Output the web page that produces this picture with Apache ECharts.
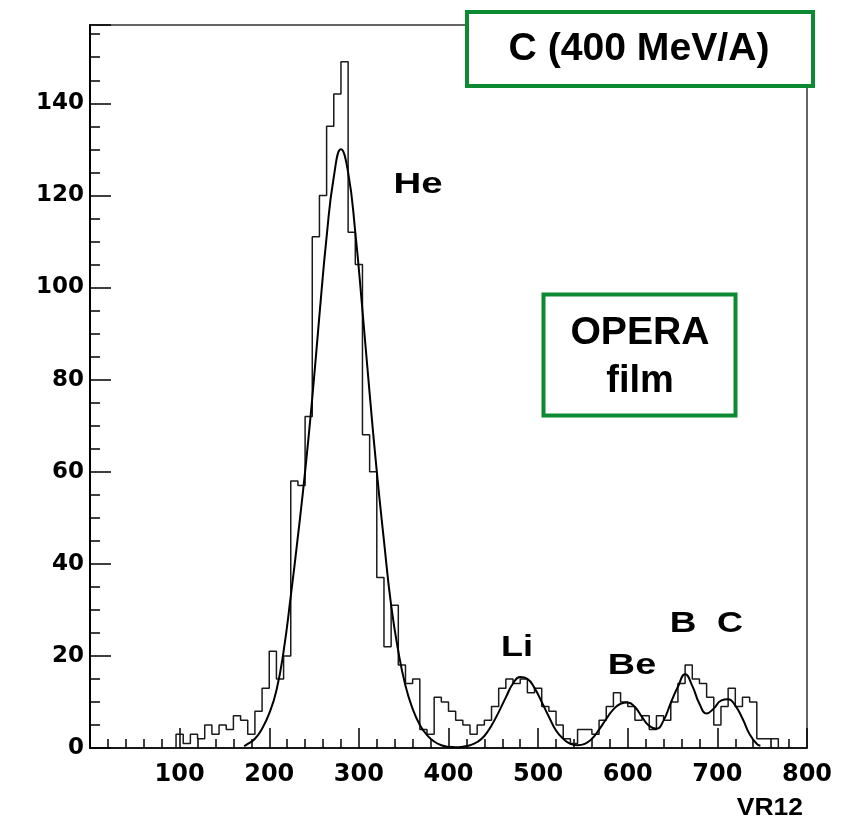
<!DOCTYPE html>
<html>
<head>
<meta charset="utf-8">
<title>VR12 - C (400 MeV/A)</title>
<script src="https://cdn.jsdelivr.net/npm/echarts@6/dist/echarts.min.js"></script>
<style>
	html, body { margin: 0; padding: 0; background: #fff; }
	#chart { width: 853px; height: 820px; }
</style>
</head>
<body>
<div id="chart"></div>
<script>
// histogram, bins of 8 starting at 96
var binStart = 96;
var binWidth = 8;
var counts = [3, 1, 3, 2, 5, 3, 5, 4, 7, 6, 3, 8, 13, 21, 15, 20,
	58, 57, 72, 111, 120, 135, 142, 149, 112, 105, 68, 60, 37, 22, 31, 18,
	14, 15, 4, 3, 11, 10, 8, 6, 5, 3, 5, 6, 9, 13, 15, 14,
	15, 12, 13, 9, 8, 5, 2, 1, 4, 4, 3, 6, 9, 12, 10, 9,
	6, 7, 4, 7, 6, 10, 14, 18, 15, 14, 11, 5, 9, 13, 9, 11,
	10, 2, 2, 2];

// fitted curve
var fitX = [172, 176, 184, 192, 200, 208, 216, 224, 232, 240, 248, 256, 264, 272, 280, 288,
	296, 304, 312, 320, 328, 336, 344, 352, 360, 368, 376, 384, 392, 400, 408, 416,
	424, 432, 440, 448, 456, 464, 472, 480, 488, 496, 504, 512, 520, 528, 536, 544,
	552, 560, 568, 576, 584, 592, 600, 608, 616, 624, 632, 640, 648, 656, 664, 672,
	680, 688, 696, 704, 712, 720, 728, 736, 744, 748];
var fitY = [0.4, 0.9, 2, 4.2, 7.5, 12.5, 21, 33, 46, 60, 76, 94, 111, 124, 130, 125,
	112, 95, 77, 60, 45, 31, 21, 13.5, 8.5, 5, 2.8, 1.4, 0.6, 0.25, 0.15, 0.3,
	0.6, 1.3, 2.6, 4.9, 7.8, 11, 14, 15.4, 15, 13, 10, 6.8, 3.8, 2, 0.9, 0.6,
	0.9, 2, 4, 6.3, 8.4, 9.6, 9.9, 8.9, 6.7, 4.8, 4.2, 6, 9.8, 13.3, 16, 13.5,
	9.6, 7.5, 8.6, 10.3, 10.6, 9.2, 6.4, 3, 0.9, 0.5];

var xTicks = [100, 200, 300, 400, 500, 600, 700, 800];
var yTicks = [0, 20, 40, 60, 80, 100, 120, 140];

var peakNames = ['He', 'Li', 'Be', 'B', 'C'];

var green = '#0b8a32';
var labelFont = 'Liberation Sans, Arial, sans-serif';

// step points: left edges, then close at the right edge
var histData = [[binStart - binWidth, 0]];
for (var i = 0; i < counts.length; i++) {
	histData.push([binStart + i * binWidth, counts[i]]);
}
histData.push([binStart + counts.length * binWidth, 0]);

var fitData = [];
for (var j = 0; j < fitX.length; j++) {
	fitData.push([fitX[j], fitY[j]]);
}

function peakText(name, x, y, sx) {
	return {
		type : 'text',
		x : x,
		y : y,
		scaleX : sx,
		z : 10,
		style : {
			text : name,
			x : 0,
			y : 0,
			align : 'center',
			verticalAlign : 'middle',
			font : 'bold 30px ' + labelFont,
			fill : '#000'
		}
	};
}

var option = {
	animation : false,
	backgroundColor : '#fff',
	grid : {
		left : 90,
		right : 46,
		top : 25,
		bottom : 72,
		show : true,
		borderColor : '#333',
		borderWidth : 1.5
	},
	xAxis : {
		type : 'value',
		min : 0,
		max : 800,
		interval : 100,
		axisLine : { lineStyle : { color : '#000', width : 1.5 } },
		axisTick : { inside : true, length : 20, lineStyle : { color : '#000', width : 1.5 } },
		minorTick : { show : true, splitNumber : 5, length : 9, lineStyle : { color : '#000', width : 1.5 } },
		splitLine : { show : false },
		axisLabel : {
			margin : 15,
			color : '#000',
			fontFamily : 'DejaVu Sans',
			fontWeight : 'bold',
			fontSize : 24,
			formatter : function(v) {
				return xTicks.indexOf(v) >= 0 ? String(v) : '';
			}
		}
	},
	yAxis : [ {
		type : 'value',
		min : 0,
		max : 157,
		interval : 20,
		axisLine : { show : true, lineStyle : { color : '#000', width : 2 } },
		axisTick : { inside : true, length : 21, lineStyle : { color : '#000', width : 1.5 } },
		splitLine : { show : false },
		axisLabel : {
			margin : 6,
			color : '#000',
			fontFamily : 'DejaVu Sans',
			fontWeight : 'bold',
			fontSize : 23,
			formatter : function(v) {
				return yTicks.indexOf(v) >= 0 ? String(v) : '';
			}
		}
	}, {
		// minor ticks every 5
		type : 'value',
		min : 0,
		max : 157,
		interval : 5,
		position : 'left',
		axisLine : { show : false },
		axisTick : { inside : true, length : 10, lineStyle : { color : '#000', width : 1.5 } },
		axisLabel : { show : false },
		splitLine : { show : false }
	} ],
	series : [ {
		name : 'VR12',
		type : 'line',
		step : 'end',
		data : histData,
		showSymbol : false,
		lineStyle : { color : '#1a1a1a', width : 1.5 },
		z : 3
	}, {
		name : 'fit',
		type : 'line',
		data : fitData,
		smooth : 0.5,
		showSymbol : false,
		lineStyle : { color : '#000', width : 2 },
		z : 4
	} ],
	graphic : [
		peakText(peakNames[0], 418, 185, 1.28),
		peakText(peakNames[1], 517, 648, 1.2),
		peakText(peakNames[2], 632, 666, 1.26),
		peakText(peakNames[3], 683, 624, 1.23),
		peakText(peakNames[4], 730, 624, 1.2),
		{
			type : 'text',
			x : 803,
			y : 809,
			scaleX : 1.15,
			z : 10,
			style : {
				text : 'VR12',
				x : 0,
				y : 0,
				align : 'right',
				verticalAlign : 'middle',
				font : 'bold 23px ' + labelFont,
				fill : '#000'
			}
		},
		{
			type : 'rect',
			z : 20,
			shape : { x : 467, y : 12, width : 346, height : 74 },
			style : { fill : '#fff', stroke : green, lineWidth : 4 }
		},
		{
			type : 'text',
			x : 639,
			y : 50,
			scaleX : 1.03,
			z : 21,
			style : {
				text : 'C (400 MeV/A)',
				x : 0,
				y : 0,
				align : 'center',
				verticalAlign : 'middle',
				font : 'bold 38px ' + labelFont,
				fill : '#000'
			}
		},
		{
			type : 'rect',
			z : 20,
			shape : { x : 543.5, y : 294.5, width : 192, height : 121 },
			style : { fill : '#fff', stroke : green, lineWidth : 4 }
		},
		{
			type : 'text',
			x : 640,
			y : 334,
			scaleX : 1.03,
			z : 21,
			style : {
				text : 'OPERA',
				x : 0,
				y : 0,
				align : 'center',
				verticalAlign : 'middle',
				font : 'bold 38px ' + labelFont,
				fill : '#000'
			}
		},
		{
			type : 'text',
			x : 640,
			y : 382,
			z : 21,
			style : {
				text : 'film',
				x : 0,
				y : 0,
				align : 'center',
				verticalAlign : 'middle',
				font : 'bold 38px ' + labelFont,
				fill : '#000'
			}
		}
	]
};

var chart = echarts.init(document.getElementById('chart'));
chart.setOption(option);
</script>
</body>
</html>
